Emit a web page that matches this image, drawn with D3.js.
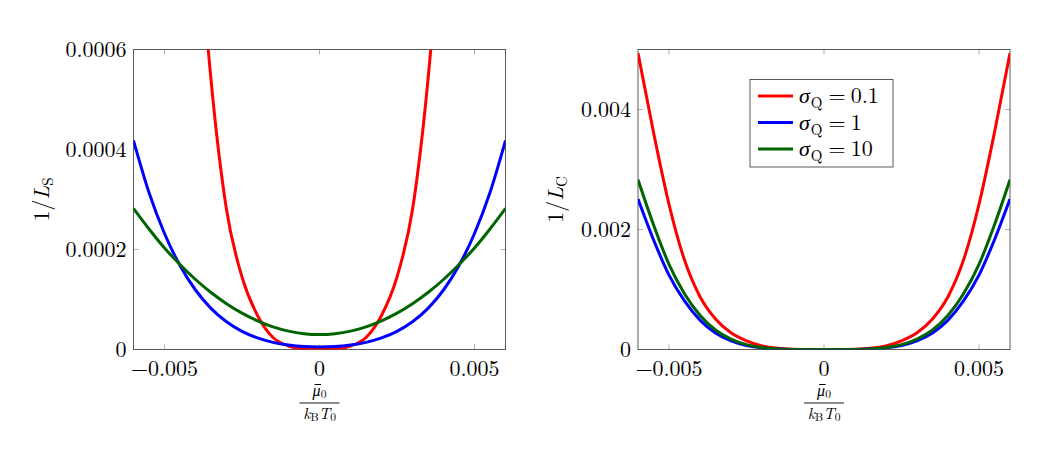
<!DOCTYPE html>
<meta charset="utf-8">
<title>Inverse lengths vs chemical potential</title>
<style>
body { margin: 0; background: #fff; }
</style>
<svg width="1050" height="450"></svg>
<script src="https://cdn.jsdelivr.net/npm/d3@7"></script>
<script>

// x grid, mu0 / (kB T0)
var xs = [-0.006, -0.0055, -0.005, -0.0045, -0.004, -0.0035, -0.003, -0.0025, -0.002, -0.0015, -0.001, -0.0005, 0,
          0.0005, 0.001, 0.0015, 0.002, 0.0025, 0.003, 0.0035, 0.004, 0.0045, 0.005, 0.0055, 0.006];

var sigmaLabels = ["0.1", "1", "10"];
var colors = ["#ff0000", "#0000ff", "#006400"];

// 1/L_S (left panel); red leaves the top of the axis, so its ends are left out
var lsRed   = [null, null, null, 0.0015, 0.00093, 0.00054, 0.00028, 0.000145, 0.000068, 0.000024, 0.000007, 0.0000012, 0,
               0.0000012, 0.000007, 0.000024, 0.000068, 0.000145, 0.00028, 0.00054, 0.00093, 0.0015, null, null, null];
var lsBlue  = [0.000418, 0.000314, 0.000232, 0.000168, 0.000119, 0.0000823, 0.0000554, 0.0000363, 0.0000231, 0.0000143, 0.0000089, 0.0000059, 0.000005,
               0.0000059, 0.0000089, 0.0000143, 0.0000231, 0.0000363, 0.0000554, 0.0000823, 0.000119, 0.000168, 0.000232, 0.000314, 0.000418];
var lsGreen = [0.000282, 0.000241, 0.000203, 0.00017, 0.00014, 0.000114, 0.0000917, 0.0000727, 0.0000573, 0.0000453, 0.0000368, 0.0000317, 0.00003,
               0.0000317, 0.0000368, 0.0000453, 0.0000573, 0.0000727, 0.0000917, 0.000114, 0.00014, 0.00017, 0.000203, 0.000241, 0.000282];

// 1/L_C (right panel)
var lcRed   = [0.00494, 0.00362, 0.00242, 0.00149, 0.00088, 0.00051, 0.00028, 0.000145, 0.000061, 0.000019, 0.0000038, 0.0000002, 0,
               0.0000002, 0.0000038, 0.000019, 0.000061, 0.000145, 0.00028, 0.00051, 0.00088, 0.00149, 0.00242, 0.00362, 0.00494];
var lcBlue  = [0.00251, 0.00183, 0.00124, 0.00081, 0.00049, 0.000275, 0.000144, 0.000068, 0.000027, 0.0000086, 0.0000017, 0.0000001, 0,
               0.0000001, 0.0000017, 0.0000086, 0.000027, 0.000068, 0.000144, 0.000275, 0.00049, 0.00081, 0.00124, 0.00183, 0.00251];
var lcGreen = [0.00283, 0.00208, 0.00142, 0.00093, 0.00057, 0.000325, 0.000173, 0.000082, 0.000033, 0.00001, 0.000002, 0.0000001, 0,
               0.0000001, 0.000002, 0.00001, 0.000033, 0.000082, 0.000173, 0.000325, 0.00057, 0.00093, 0.00142, 0.00208, 0.00283];

var xTicks = [-0.005, 0, 0.005];
var xTickLabels = ["\u22120.005", "0", "0.005"];
var lsTicks = [0, 0.0002, 0.0004, 0.0006];
var lsTickLabels = ["0", "0.0002", "0.0004", "0.0006"];
var lcTicks = [0, 0.002, 0.004];
var lcTickLabels = ["0", "0.002", "0.004"];

var svg = d3.select("svg")
    .attr("font-family", "'Latin Modern Roman'")
    .attr("fill", "#000");
var defs = svg.append("defs");

function panel(p) {
  var x = d3.scaleLinear().domain([-0.006, 0.006]).range([p.left, p.right]);
  var y = d3.scaleLinear().domain(p.yDomain).range([p.bottom, p.top]);
  var g = svg.append("g");

  defs.append("clipPath").attr("id", p.id + "-clip")
    .append("rect")
      .attr("x", p.left).attr("y", p.top)
      .attr("width", p.right - p.left).attr("height", p.bottom - p.top);

  // inner ticks on all four sides
  var tk = g.append("g").attr("stroke", "#b0b0b0").attr("stroke-width", 1);
  xTicks.forEach(function(t) {
    tk.append("line").attr("x1", x(t)).attr("x2", x(t)).attr("y1", p.bottom).attr("y2", p.bottom - 5);
    tk.append("line").attr("x1", x(t)).attr("x2", x(t)).attr("y1", p.top).attr("y2", p.top + 5);
  });
  p.yTicks.forEach(function(t) {
    tk.append("line").attr("x1", p.left).attr("x2", p.left + 5).attr("y1", y(t)).attr("y2", y(t));
    tk.append("line").attr("x1", p.right).attr("x2", p.right - 5).attr("y1", y(t)).attr("y2", y(t));
  });

  g.append("rect")
      .attr("x", p.left).attr("y", p.top)
      .attr("width", p.right - p.left).attr("height", p.bottom - p.top)
      .attr("fill", "none").attr("stroke", "#5a5a5a").attr("stroke-width", 1);

  var line = d3.line()
      .defined(function(d) { return d[1] != null; })
      .x(function(d) { return x(d[0]); })
      .y(function(d) { return y(d[1]); })
      .curve(d3.curveMonotoneX);

  g.append("g").attr("clip-path", "url(#" + p.id + "-clip)")
    .selectAll("path")
      .data(p.series)
    .enter().append("path")
      .attr("fill", "none")
      .attr("stroke", function(d, i) { return colors[i]; })
      .attr("stroke-width", 3)
      .attr("stroke-linejoin", "round")
      .attr("d", function(s) { return line(xs.map(function(v, i) { return [v, s[i]]; })); });

  // tick labels
  g.selectAll("text.xt")
      .data(xTicks)
    .enter().append("text")
      .attr("class", "xt")
      .attr("x", function(d) { return x(d); })
      .attr("y", p.bottom + 26)
      .attr("text-anchor", "middle")
      .attr("font-size", 22)
      .text(function(d, i) { return xTickLabels[i]; });

  g.selectAll("text.yt")
      .data(p.yTicks)
    .enter().append("text")
      .attr("class", "yt")
      .attr("x", p.left - 7)
      .attr("y", function(d) { return y(d) + 7.5; })
      .attr("text-anchor", "end")
      .attr("font-size", 22)
      .text(function(d, i) { return p.yTickLabels[i]; });

  // y label 1/L_sub
  var yl = g.append("text")
      .attr("transform", "translate(" + p.ylabelX + "," + ((p.top + p.bottom) / 2) + ") rotate(-90)")
      .attr("text-anchor", "middle")
      .attr("font-size", 22);
  yl.append("tspan").text("1/");
  yl.append("tspan").attr("font-style", "italic").text("L");
  yl.append("tspan").attr("dy", 4).attr("font-size", 15).text(p.sub);

  // x label: fraction mu0 / (kB T0), macron drawn as a short rule
  var cx = x(0);
  var num = g.append("text").attr("x", cx).attr("y", p.bottom + 46)
      .attr("text-anchor", "middle").attr("font-size", 16);
  num.append("tspan").attr("font-style", "italic").text("\u03bc");
  num.append("tspan").attr("dy", 2.5).attr("font-size", 11.5).text("0");
  var muLen = num.node().getSubStringLength(0, 1);
  var numStart = num.node().getStartPositionOfChar(0).x;
  g.append("line")
      .attr("x1", numStart + 2).attr("x2", numStart + muLen + 0.5)
      .attr("y1", p.bottom + 35).attr("y2", p.bottom + 35)
      .attr("stroke", "#000").attr("stroke-width", 1);
  g.append("line")
      .attr("x1", cx - 20).attr("x2", cx + 20)
      .attr("y1", p.bottom + 53.5).attr("y2", p.bottom + 53.5)
      .attr("stroke", "#000").attr("stroke-width", 0.9);
  var den = g.append("text").attr("x", cx).attr("y", p.bottom + 69)
      .attr("text-anchor", "middle").attr("font-size", 16);
  den.append("tspan").attr("font-style", "italic").text("k");
  den.append("tspan").attr("dy", 2.5).attr("font-size", 11.5).text("B");
  den.append("tspan").attr("dy", -2.5).attr("font-style", "italic").text("T");
  den.append("tspan").attr("dy", 2.5).attr("font-size", 11.5).text("0");

  return { x: x, y: y, g: g };
}

panel({ id: "ls", left: 133.5, right: 505.5, top: 49.5, bottom: 349.5,
        yDomain: [0, 0.0006], yTicks: lsTicks, yTickLabels: lsTickLabels,
        series: [lsRed, lsBlue, lsGreen], sub: "S", ylabelX: 49 });

var right = panel({ id: "lc", left: 638, right: 1010, top: 49.5, bottom: 349.5,
        yDomain: [0, 0.005], yTicks: lcTicks, yTickLabels: lcTickLabels,
        series: [lcRed, lcBlue, lcGreen], sub: "C", ylabelX: 563 });

// legend
var lg = right.g.append("g").attr("transform", "translate(750,79.5)");
lg.append("rect").attr("width", 143).attr("height", 87.5)
    .attr("fill", "#fff").attr("stroke", "#5a5a5a").attr("stroke-width", 1);
sigmaLabels.forEach(function(s, i) {
  var yy = 16.5 + i * 26.5;
  lg.append("line").attr("x1", 8).attr("x2", 43).attr("y1", yy).attr("y2", yy)
      .attr("stroke", colors[i]).attr("stroke-width", 3);
  var t = lg.append("text").attr("x", 49).attr("y", yy + 7).attr("font-size", 22);
  t.append("tspan").attr("font-style", "italic").text("\u03c3");
  t.append("tspan").attr("dx", 1).attr("dy", 5).attr("font-size", 15).text("Q");
  t.append("tspan").attr("dx", 6).attr("dy", -5).text("=");
  t.append("tspan").attr("dx", 5).text(s);
});
</script>
